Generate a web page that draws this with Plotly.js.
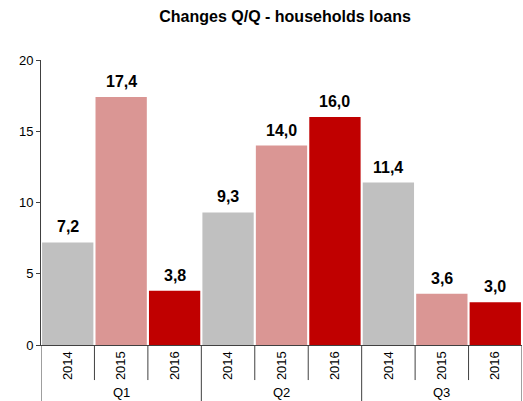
<!DOCTYPE html>
<html><head><meta charset="utf-8">
<script src="https://cdn.plot.ly/plotly-3.0.1.min.js"></script>
<style>html,body{margin:0;padding:0;background:#fff}#chart{width:523px;height:401px}</style>
</head><body><div id="chart"></div>
<script>
var quarters = ["Q1", "Q2", "Q3"];
var years = ["2014", "2015", "2016"];
var values = [7.2, 17.4, 3.8, 9.3, 14.0, 16.0, 11.4, 3.6, 3.0];
var yearColors = {"2014": "#C0C0C0", "2015": "#DA9694", "2016": "#C00000"};

var FONT = 'Liberation Sans, Arial, sans-serif';
var xs = [], yearLabels = [], colors = [], labels = [];
quarters.forEach(function (q, qi) {
  years.forEach(function (y, yi) {
    var i = qi * years.length + yi;
    xs.push(i);
    yearLabels.push(y);
    colors.push(yearColors[y]);
    labels.push(values[i].toFixed(1).replace('.', ','));
  });
});

var shapes = [];
var nb = xs.length;
for (var k = 0; k <= nb; k++) {
  var isGroup = (k % years.length === 0);
  shapes.push({
    type: 'line', xref: 'x', yref: 'paper',
    x0: k - 0.5, x1: k - 0.5, y0: 0, y1: isGroup ? -0.2 : -0.123,
    line: {color: '#404040', width: 1}
  });
}

var annotations = [];
xs.forEach(function (x, i) {
  annotations.push({
    x: x, y: values[i], xref: 'x', yref: 'y', text: '<b>' + labels[i] + '</b>',
    showarrow: false, yanchor: 'bottom', yshift: 5,
    font: {family: FONT, size: 16, color: '#000'}
  });
});
quarters.forEach(function (q, qi) {
  annotations.push({
    x: qi * years.length + 1, y: -0.168, xref: 'x', yref: 'paper', text: q,
    showarrow: false, yanchor: 'middle',
    font: {family: FONT, size: 13, color: '#000'}
  });
});

var trace = {
  type: 'bar', x: xs, y: values,
  marker: {color: colors, line: {width: 0}},
  hoverinfo: 'none'
};

var layout = {
  width: 523, height: 401,
  margin: {l: 41, r: 1, t: 60, b: 56},
  paper_bgcolor: '#fff', plot_bgcolor: '#fff',
  bargap: 0.04,
  showlegend: false,
  font: {family: FONT},
  title: {
    text: '<b>Changes Q/Q - households loans</b>',
    x: 0.545, xanchor: 'center', y: 0.958, yanchor: 'middle',
    font: {family: FONT, size: 16, color: '#000'}
  },
  xaxis: {
    range: [-0.5, 8.5], tickvals: xs, ticktext: yearLabels, tickangle: -90,
    ticks: '', showgrid: false, zeroline: false,
    showline: true, linecolor: '#404040', linewidth: 1,
    tickfont: {family: FONT, size: 13, color: '#000'},
    fixedrange: true
  },
  yaxis: {
    range: [0, 20], tickvals: [0, 5, 10, 15, 20], ticks: 'outside', ticklen: 4,
    tickcolor: '#404040', showgrid: false, zeroline: false,
    showline: true, linecolor: '#404040', linewidth: 1,
    tickfont: {family: FONT, size: 13, color: '#000'},
    fixedrange: true
  },
  shapes: shapes,
  annotations: annotations
};

Plotly.newPlot('chart', [trace], layout, {displayModeBar: false, staticPlot: true});
</script>
</body></html>
